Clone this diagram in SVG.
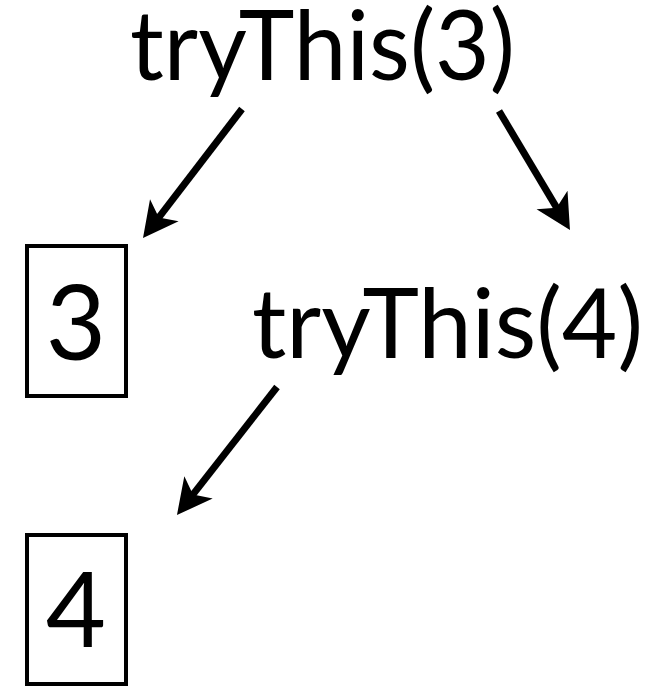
<svg xmlns="http://www.w3.org/2000/svg" width="649" height="686" viewBox="0 0 649 686">
  <style>
    .call { font-family: "Lato", "Liberation Sans", sans-serif; font-size: 96px; fill: #000; }
    .val { font-family: "Lato", "Liberation Sans", sans-serif; font-size: 104px; fill: #000; text-anchor: middle; }
    .box { fill: #fff; stroke: #000; stroke-width: 4; }
    .edge { stroke: #000; stroke-width: 7; fill: none; marker-end: url(#arrow); }
  </style>
  <defs>
    <marker id="arrow" markerUnits="userSpaceOnUse" viewBox="-40 -22 44 44" markerWidth="44" markerHeight="44" refX="-22" refY="0" orient="auto" overflow="visible">
      <path d="M0,0 L-35,-18 L-26,0 L-35,18 Z" fill="#000"/>
    </marker>
  </defs>
  <rect width="649" height="686" fill="#fff"/>
  <g id="node-trythis3">
    <text class="call" x="130" y="80" textLength="385" lengthAdjust="spacingAndGlyphs">tryThis(3)</text>
  </g>
  <g id="node-box3">
    <rect class="box" x="27" y="246" width="99" height="150"/>
    <text class="val" x="76" y="360">3</text>
  </g>
  <g id="node-trythis4">
    <text class="call" x="252" y="358" textLength="391" lengthAdjust="spacingAndGlyphs">tryThis(4)</text>
  </g>
  <g id="node-box4">
    <rect class="box" x="27" y="535" width="99" height="149"/>
    <text class="val" x="76" y="647">4</text>
  </g>
  <g id="connectors">
    <line class="edge" x1="242" y1="109" x2="156.4" y2="220.6"/>
    <line class="edge" x1="499" y1="111" x2="558.7" y2="211.1"/>
    <line class="edge" x1="277" y1="387" x2="190.5" y2="497.7"/>
  </g>
</svg>
